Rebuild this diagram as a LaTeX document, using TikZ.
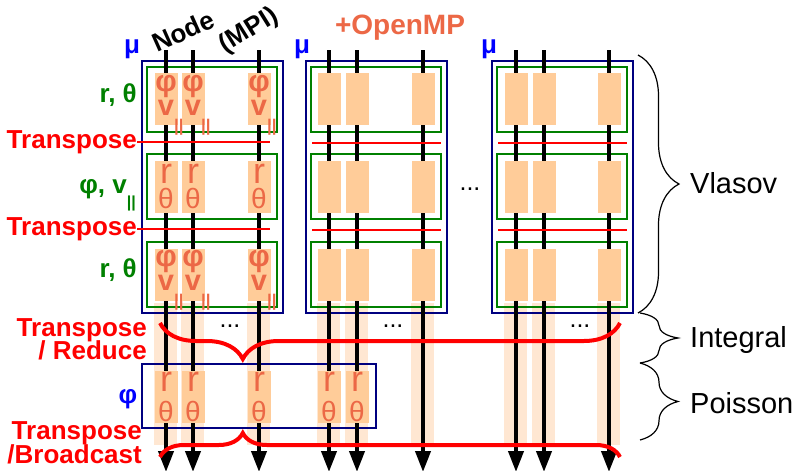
\documentclass[tikz,border=0pt]{standalone}
\usepackage{fontspec}
\setmainfont{Liberation Sans}
\usetikzlibrary{arrows.meta,decorations.pathreplacing}

\definecolor{boxblue}{RGB}{0,0,128}
\definecolor{boxgreen}{RGB}{0,128,0}
\definecolor{cellfill}{RGB}{255,204,153}
\definecolor{bandfill}{RGB}{255,231,210}
\definecolor{celltext}{RGB}{236,104,70}
\definecolor{labelblue}{RGB}{0,0,255}

\newcommand{\fsz}[1]{\fontsize{#1}{#1}\selectfont}
% two glyphs stacked in a cell: lift1, text1, lift2, text2
\newcommand{\stack}[4]{\makebox[0pt]{\raisebox{#1}[0pt][0pt]{#2}}\makebox[0pt]{\raisebox{#3}[0pt][0pt]{#4}}}
\newcommand{\vpar}[2]{v\rlap{\raisebox{#1}[0pt][0pt]{\fsz{#2}\bfseries||}}}
\newcommand{\phiv}{\stack{8pt}{\bfseries\fsz{30}φ}{-16pt}{\bfseries\fsz{29}\vpar{-16pt}{17}}}
\newcommand{\rtheta}{\stack{4pt}{\fsz{36}r}{-21pt}{θ}}
\newcommand{\rthetap}{\stack{5pt}{\fsz{36}r}{-25pt}{θ}}

\tikzset{
  boldlbl/.style={font=\fsz{26}\bfseries, inner sep=0pt},
  redlbl/.style={boldlbl, text=red, anchor=base east},
  greenlbl/.style={boldlbl, text=boxgreen, anchor=base east},
  bluelbl/.style={boldlbl, text=labelblue, anchor=base},
  sidelbl/.style={font=\fsz{29}, anchor=west, inner sep=0pt},
  cell/.style={fill=cellfill, minimum width=23pt, minimum height=52pt, inner sep=0pt,
    text=celltext, font=\fsz{28}},
  band/.style={fill=bandfill},
  outerbox/.style={draw=boxblue, line width=2pt},
  innerbox/.style={draw=boxgreen, line width=2pt},
  tpline/.style={draw=red, line width=2.5pt},
  flow/.style={line width=4pt, -{Triangle[width=15pt,length=21pt]}},
  redbrace/.style={draw=red, line width=4pt, decorate},
  blackbrace/.style={draw=black, line width=1.2pt, decorate},
}

\begin{document}
\begin{tikzpicture}[x=1pt,y=-1pt]
\useasboundingbox (0,0) rectangle (795,471);

% Light bands under the blocks
\foreach \c in {166,193,259,329,357,423,516,544,609}
  \fill[band] (\c-12,303) rectangle (\c+11,445);

% Blocks (mu)
\foreach \bx in {142,306,492} {
  \draw[outerbox] (\bx,61) rectangle (\bx+141,313);
  \foreach \ty/\by in {67/132,154/219,242/307}
    \draw[innerbox] (\bx+5,\ty) rectangle (\bx+135,\by);
}

% Poisson box
\draw[outerbox] (142,364) rectangle (376,428);

% Node lines
\foreach \c [count=\i] in {166,193,259,329,357,423,516,544,609} {
  \coordinate (top\i) at (\c,50);
  \coordinate (end\i) at (\c,472);
  \draw[flow] (top\i) -- (end\i);
}

% Cells of the first block
\foreach \c [count=\i] in {166,193,259} {
  \node[cell] (pa\i) at (\c,99) {\phiv};
  \node[cell] (ra\i) at (\c,187) {\rtheta};
  \node[cell] (pb\i) at (\c,274.5) {\phiv};
}

% Cells of the other blocks
\foreach \c in {329,357,423,516,544,609}
  \foreach \y [count=\j] in {99,187,274.5}
    \node[cell] (e\c-\j) at (\c,\y) {};

% Cells of the Poisson box
\foreach \c [count=\i] in {166,193,259,329,357}
  \node[cell] (po\i) at (\c,396.5) {\rthetap};

% Labels on the left
\node[bluelbl] (mu1) at (132,53) {μ};
\node[bluelbl] (mu2) at (302,53) {μ};
\node[bluelbl] (mu3) at (489,53) {μ};
\node[greenlbl] (rt1) at (137,102) {r, θ};
\node[greenlbl] (pv1) at (127,193) {φ, \vpar{-14pt}{16}};
\node[greenlbl] (rt2) at (137,277) {r, θ};
\node[redlbl] (tp1) at (137,148) {Transpose};
\node[redlbl] (tp2) at (137,235) {Transpose};
\node[redlbl] (tpr) at (147,336) {Transpose};
\node[redlbl] (red) at (147,359) {/ Reduce};
\node[redlbl] (tpb) at (142,439) {Transpose};
\node[redlbl] (bro) at (142,463) {/Broadcast};
\node[bluelbl] (phi) at (128,403) {φ};

% Transpose lines
\draw[tpline] (tp1.east) -- ++(133,0);
\draw[tpline] (tp2.east) -- ++(133,0);
\foreach \bx in {306,492}
  \foreach \y in {143,230}
    \draw[tpline] (\bx+6,\y) -- (\bx+135,\y);

% Titles
\node[boldlbl, rotate=24] (nodelbl) at (183,31) {Node};
\node[boldlbl, rotate=32] (mpilbl) at (249,31) {(MPI)};
\node[boldlbl, font=\fsz{28}\bfseries, text=celltext] (omp) at (400,28) {+OpenMP};

% Dots
\node[font=\fsz{25}, anchor=base] (dots1) at (470,190) {...};
\node[font=\fsz{25}, anchor=base] (dots2) at (230,327) {...};
\node[font=\fsz{25}, anchor=base] (dots3) at (393,327) {...};
\node[font=\fsz{25}, anchor=base] (dots4) at (580,327) {...};

% Red braces
\draw[redbrace, decoration={brace, amplitude=36pt, aspect=0.82}] (620,323) -- (160,323);
\draw[redbrace, decoration={brace, amplitude=24pt, aspect=0.18}] (160,457) -- (620,457);

% Phases
\draw[blackbrace, decoration={brace, amplitude=41pt}] (638,55) -- (638,313);
\draw[blackbrace, decoration={brace, amplitude=38pt}] (640,313) -- (640,363);
\draw[blackbrace, decoration={brace, amplitude=38pt}] (640,363) -- (640,440);
\node[sidelbl] (vlasov) at (690,183) {Vlasov};
\node[sidelbl] (integral) at (690,340) {Integral};
\node[sidelbl] (poisson) at (690,403) {Poisson};
\end{tikzpicture}
\end{document}
